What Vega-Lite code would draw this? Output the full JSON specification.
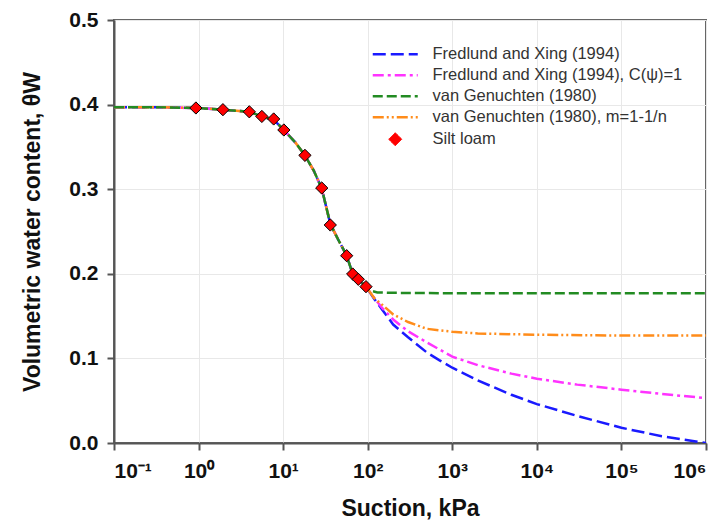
{
  "$schema": "https://vega.github.io/schema/vega-lite/v6.json",
  "width": 592,
  "height": 423,
  "autosize": "none",
  "padding": {"left": 114, "top": 20, "right": 18, "bottom": 82},
  "background": "white",
  "config": {
    "view": {"stroke": "#666", "strokeWidth": 2},
    "font": "Liberation Sans",
    "axis": {
      "labelFont": "Liberation Sans", "labelFontWeight": "bold", "labelFontSize": 21, "labelColor": "#111",
      "titleFont": "Liberation Sans", "titleFontWeight": "bold", "titleFontSize": 23, "titleColor": "#111",
      "domainColor": "#555", "domainWidth": 2, "tickColor": "#555", "tickWidth": 2, "tickSize": 7,
      "gridColor": "#e8e8e8", "gridWidth": 1
    }
  },
  "datasets": {
    "curves": [
      {"s": "Fredlund and Xing (1994)", "x": 0.1, "y": 0.397},
      {"s": "Fredlund and Xing (1994)", "x": 0.3, "y": 0.397},
      {"s": "Fredlund and Xing (1994)", "x": 0.93, "y": 0.396},
      {"s": "Fredlund and Xing (1994)", "x": 1.94, "y": 0.394},
      {"s": "Fredlund and Xing (1994)", "x": 3.98, "y": 0.3915},
      {"s": "Fredlund and Xing (1994)", "x": 5.6, "y": 0.386},
      {"s": "Fredlund and Xing (1994)", "x": 7.73, "y": 0.382},
      {"s": "Fredlund and Xing (1994)", "x": 10.2, "y": 0.37},
      {"s": "Fredlund and Xing (1994)", "x": 14, "y": 0.355},
      {"s": "Fredlund and Xing (1994)", "x": 18.1, "y": 0.34},
      {"s": "Fredlund and Xing (1994)", "x": 23, "y": 0.322},
      {"s": "Fredlund and Xing (1994)", "x": 28.6, "y": 0.301},
      {"s": "Fredlund and Xing (1994)", "x": 36.1, "y": 0.259},
      {"s": "Fredlund and Xing (1994)", "x": 45, "y": 0.24},
      {"s": "Fredlund and Xing (1994)", "x": 56.4, "y": 0.2215},
      {"s": "Fredlund and Xing (1994)", "x": 66.4, "y": 0.2},
      {"s": "Fredlund and Xing (1994)", "x": 77.4, "y": 0.1935},
      {"s": "Fredlund and Xing (1994)", "x": 95.4, "y": 0.1848},
      {"s": "Fredlund and Xing (1994)", "x": 120, "y": 0.17},
      {"s": "Fredlund and Xing (1994)", "x": 150, "y": 0.157},
      {"s": "Fredlund and Xing (1994)", "x": 200, "y": 0.14},
      {"s": "Fredlund and Xing (1994)", "x": 300, "y": 0.125},
      {"s": "Fredlund and Xing (1994)", "x": 500, "y": 0.107},
      {"s": "Fredlund and Xing (1994)", "x": 700, "y": 0.098},
      {"s": "Fredlund and Xing (1994)", "x": 1000, "y": 0.089},
      {"s": "Fredlund and Xing (1994)", "x": 2000, "y": 0.074},
      {"s": "Fredlund and Xing (1994)", "x": 5000, "y": 0.057},
      {"s": "Fredlund and Xing (1994)", "x": 10000, "y": 0.046},
      {"s": "Fredlund and Xing (1994)", "x": 30000, "y": 0.032},
      {"s": "Fredlund and Xing (1994)", "x": 100000, "y": 0.018},
      {"s": "Fredlund and Xing (1994)", "x": 300000, "y": 0.008},
      {"s": "Fredlund and Xing (1994)", "x": 1000000, "y": 0.0},

      {"s": "Fredlund and Xing (1994), C(ψ)=1", "x": 0.1, "y": 0.397},
      {"s": "Fredlund and Xing (1994), C(ψ)=1", "x": 0.3, "y": 0.397},
      {"s": "Fredlund and Xing (1994), C(ψ)=1", "x": 0.93, "y": 0.396},
      {"s": "Fredlund and Xing (1994), C(ψ)=1", "x": 1.94, "y": 0.394},
      {"s": "Fredlund and Xing (1994), C(ψ)=1", "x": 3.98, "y": 0.3915},
      {"s": "Fredlund and Xing (1994), C(ψ)=1", "x": 5.6, "y": 0.386},
      {"s": "Fredlund and Xing (1994), C(ψ)=1", "x": 7.73, "y": 0.382},
      {"s": "Fredlund and Xing (1994), C(ψ)=1", "x": 10.2, "y": 0.37},
      {"s": "Fredlund and Xing (1994), C(ψ)=1", "x": 14, "y": 0.355},
      {"s": "Fredlund and Xing (1994), C(ψ)=1", "x": 18.1, "y": 0.34},
      {"s": "Fredlund and Xing (1994), C(ψ)=1", "x": 23, "y": 0.322},
      {"s": "Fredlund and Xing (1994), C(ψ)=1", "x": 28.6, "y": 0.301},
      {"s": "Fredlund and Xing (1994), C(ψ)=1", "x": 36.1, "y": 0.259},
      {"s": "Fredlund and Xing (1994), C(ψ)=1", "x": 45, "y": 0.24},
      {"s": "Fredlund and Xing (1994), C(ψ)=1", "x": 56.4, "y": 0.2215},
      {"s": "Fredlund and Xing (1994), C(ψ)=1", "x": 66.4, "y": 0.2},
      {"s": "Fredlund and Xing (1994), C(ψ)=1", "x": 77.4, "y": 0.1935},
      {"s": "Fredlund and Xing (1994), C(ψ)=1", "x": 95.4, "y": 0.1848},
      {"s": "Fredlund and Xing (1994), C(ψ)=1", "x": 120, "y": 0.171},
      {"s": "Fredlund and Xing (1994), C(ψ)=1", "x": 150, "y": 0.159},
      {"s": "Fredlund and Xing (1994), C(ψ)=1", "x": 200, "y": 0.146},
      {"s": "Fredlund and Xing (1994), C(ψ)=1", "x": 300, "y": 0.132},
      {"s": "Fredlund and Xing (1994), C(ψ)=1", "x": 500, "y": 0.119},
      {"s": "Fredlund and Xing (1994), C(ψ)=1", "x": 1000, "y": 0.102},
      {"s": "Fredlund and Xing (1994), C(ψ)=1", "x": 2000, "y": 0.092},
      {"s": "Fredlund and Xing (1994), C(ψ)=1", "x": 5000, "y": 0.082},
      {"s": "Fredlund and Xing (1994), C(ψ)=1", "x": 10000, "y": 0.076},
      {"s": "Fredlund and Xing (1994), C(ψ)=1", "x": 30000, "y": 0.069},
      {"s": "Fredlund and Xing (1994), C(ψ)=1", "x": 100000, "y": 0.063},
      {"s": "Fredlund and Xing (1994), C(ψ)=1", "x": 300000, "y": 0.058},
      {"s": "Fredlund and Xing (1994), C(ψ)=1", "x": 1000000, "y": 0.053},

      {"s": "van Genuchten (1980), m=1-1/n", "x": 0.1, "y": 0.397},
      {"s": "van Genuchten (1980), m=1-1/n", "x": 0.3, "y": 0.397},
      {"s": "van Genuchten (1980), m=1-1/n", "x": 0.93, "y": 0.396},
      {"s": "van Genuchten (1980), m=1-1/n", "x": 1.94, "y": 0.394},
      {"s": "van Genuchten (1980), m=1-1/n", "x": 3.98, "y": 0.3915},
      {"s": "van Genuchten (1980), m=1-1/n", "x": 5.6, "y": 0.386},
      {"s": "van Genuchten (1980), m=1-1/n", "x": 7.73, "y": 0.382},
      {"s": "van Genuchten (1980), m=1-1/n", "x": 10.2, "y": 0.37},
      {"s": "van Genuchten (1980), m=1-1/n", "x": 14, "y": 0.355},
      {"s": "van Genuchten (1980), m=1-1/n", "x": 18.1, "y": 0.34},
      {"s": "van Genuchten (1980), m=1-1/n", "x": 23, "y": 0.322},
      {"s": "van Genuchten (1980), m=1-1/n", "x": 28.6, "y": 0.301},
      {"s": "van Genuchten (1980), m=1-1/n", "x": 36.1, "y": 0.259},
      {"s": "van Genuchten (1980), m=1-1/n", "x": 45, "y": 0.24},
      {"s": "van Genuchten (1980), m=1-1/n", "x": 56.4, "y": 0.2215},
      {"s": "van Genuchten (1980), m=1-1/n", "x": 66.4, "y": 0.2},
      {"s": "van Genuchten (1980), m=1-1/n", "x": 77.4, "y": 0.1935},
      {"s": "van Genuchten (1980), m=1-1/n", "x": 95.4, "y": 0.1848},
      {"s": "van Genuchten (1980), m=1-1/n", "x": 120, "y": 0.171},
      {"s": "van Genuchten (1980), m=1-1/n", "x": 150, "y": 0.163},
      {"s": "van Genuchten (1980), m=1-1/n", "x": 200, "y": 0.152},
      {"s": "van Genuchten (1980), m=1-1/n", "x": 300, "y": 0.143},
      {"s": "van Genuchten (1980), m=1-1/n", "x": 500, "y": 0.135},
      {"s": "van Genuchten (1980), m=1-1/n", "x": 1000, "y": 0.1315},
      {"s": "van Genuchten (1980), m=1-1/n", "x": 2000, "y": 0.1295},
      {"s": "van Genuchten (1980), m=1-1/n", "x": 10000, "y": 0.128},
      {"s": "van Genuchten (1980), m=1-1/n", "x": 100000, "y": 0.127},
      {"s": "van Genuchten (1980), m=1-1/n", "x": 1000000, "y": 0.127},

      {"s": "van Genuchten (1980)", "x": 0.1, "y": 0.397},
      {"s": "van Genuchten (1980)", "x": 0.3, "y": 0.397},
      {"s": "van Genuchten (1980)", "x": 0.93, "y": 0.396},
      {"s": "van Genuchten (1980)", "x": 1.94, "y": 0.394},
      {"s": "van Genuchten (1980)", "x": 3.98, "y": 0.3915},
      {"s": "van Genuchten (1980)", "x": 5.6, "y": 0.386},
      {"s": "van Genuchten (1980)", "x": 7.73, "y": 0.382},
      {"s": "van Genuchten (1980)", "x": 10.2, "y": 0.37},
      {"s": "van Genuchten (1980)", "x": 14, "y": 0.355},
      {"s": "van Genuchten (1980)", "x": 18.1, "y": 0.34},
      {"s": "van Genuchten (1980)", "x": 23, "y": 0.322},
      {"s": "van Genuchten (1980)", "x": 28.6, "y": 0.301},
      {"s": "van Genuchten (1980)", "x": 36.1, "y": 0.259},
      {"s": "van Genuchten (1980)", "x": 45, "y": 0.24},
      {"s": "van Genuchten (1980)", "x": 56.4, "y": 0.2215},
      {"s": "van Genuchten (1980)", "x": 66.4, "y": 0.2},
      {"s": "van Genuchten (1980)", "x": 77.4, "y": 0.1935},
      {"s": "van Genuchten (1980)", "x": 95.4, "y": 0.1848},
      {"s": "van Genuchten (1980)", "x": 110, "y": 0.18},
      {"s": "van Genuchten (1980)", "x": 130, "y": 0.178},
      {"s": "van Genuchten (1980)", "x": 200, "y": 0.1775},
      {"s": "van Genuchten (1980)", "x": 1000, "y": 0.177},
      {"s": "van Genuchten (1980)", "x": 10000, "y": 0.177},
      {"s": "van Genuchten (1980)", "x": 1000000, "y": 0.177}
    ],
    "points": [
      {"s": "Silt loam", "x": 0.93, "y": 0.396},
      {"s": "Silt loam", "x": 1.94, "y": 0.394},
      {"s": "Silt loam", "x": 3.98, "y": 0.3915},
      {"s": "Silt loam", "x": 5.6, "y": 0.386},
      {"s": "Silt loam", "x": 7.73, "y": 0.383},
      {"s": "Silt loam", "x": 10.2, "y": 0.37},
      {"s": "Silt loam", "x": 18.1, "y": 0.34},
      {"s": "Silt loam", "x": 28.6, "y": 0.3014},
      {"s": "Silt loam", "x": 36.1, "y": 0.2577},
      {"s": "Silt loam", "x": 56.4, "y": 0.2214},
      {"s": "Silt loam", "x": 66.4, "y": 0.1998},
      {"s": "Silt loam", "x": 77.4, "y": 0.1935},
      {"s": "Silt loam", "x": 95.4, "y": 0.1848}
    ]
  },
  "layer": [
    {
      "data": {"name": "curves"},
      "mark": {"type": "line", "strokeWidth": 2.5, "clip": true},
      "encoding": {
        "x": {
          "field": "x", "type": "quantitative",
          "scale": {"type": "log", "domain": [0.1, 1000000], "nice": false},
          "axis": {
            "title": "Suction, kPa", "titlePadding": 16,
            "values": [0.1, 1, 10, 100, 1000, 10000, 100000, 1000000],
            "labelPadding": 10,
            "labelExpr": "datum.value < 0.5 ? '10⁻¹' : datum.value < 5 ? '10⁰' : datum.value < 50 ? '10¹' : datum.value < 500 ? '10²' : datum.value < 5000 ? '10³' : datum.value < 50000 ? '10⁴' : datum.value < 500000 ? '10⁵' : '10⁶'"
          }
        },
        "y": {
          "field": "y", "type": "quantitative",
          "scale": {"domain": [0, 0.5], "nice": false},
          "axis": {
            "title": "Volumetric water content, θW", "titlePadding": 24,
            "values": [0, 0.1, 0.2, 0.3, 0.4, 0.5], "format": ".1f", "labelPadding": 9
          }
        },
        "color": {
          "field": "s", "type": "nominal",
          "scale": {
            "domain": ["Fredlund and Xing (1994)", "Fredlund and Xing (1994), C(ψ)=1", "van Genuchten (1980)", "van Genuchten (1980), m=1-1/n", "Silt loam"],
            "range": ["#1a1aff", "#ff33ff", "#228b22", "#ff8c1a", "#ff0000"]
          },
          "legend": {
            "title": null, "orient": "none", "legendX": 258, "legendY": 26, "padding": 0,
            "labelFont": "Liberation Sans", "labelFontSize": 16.5, "labelColor": "#333", "labelLimit": 400,
            "symbolSize": 225, "symbolOffset": 15, "labelOffset": 29, "rowPadding": 4,
            "symbolStrokeWidth": 2.5,
            "encode": {
              "symbols": {
                "update": {
                  "shape": {"signal": "datum.label == 'Silt loam' ? 'diamond' : 'stroke'"},
                  "size": {"signal": "datum.label == 'Silt loam' ? 170 : 2025"},
                  "fill": {"signal": "datum.label == 'Silt loam' ? '#ff0000' : 'transparent'"},
                  "stroke": {"signal": "datum.label == 'Silt loam' ? '#000000' : scale('color', datum.value)"},
                  "strokeWidth": {"signal": "datum.label == 'Silt loam' ? 1 : 2.5"},
                  "opacity": {"value": 1}
                }
              }
            }
          }
        },
        "strokeDash": {
          "field": "s", "type": "nominal",
          "scale": {
            "domain": ["Fredlund and Xing (1994)", "Fredlund and Xing (1994), C(ψ)=1", "van Genuchten (1980)", "van Genuchten (1980), m=1-1/n", "Silt loam"],
            "range": [[13, 5], [11, 4, 3, 4], [10, 4], [11, 3, 2, 3, 2, 3], [1, 0]]
          },
          "legend": {"title": null}
        }
      }
    },
    {
      "data": {"name": "points"},
      "mark": {"type": "point", "shape": "diamond", "filled": true, "size": 150, "stroke": "#000", "strokeWidth": 1, "opacity": 1},
      "encoding": {
        "x": {"field": "x", "type": "quantitative"},
        "y": {"field": "y", "type": "quantitative"},
        "color": {"field": "s", "type": "nominal"}
      }
    }
  ]
}
